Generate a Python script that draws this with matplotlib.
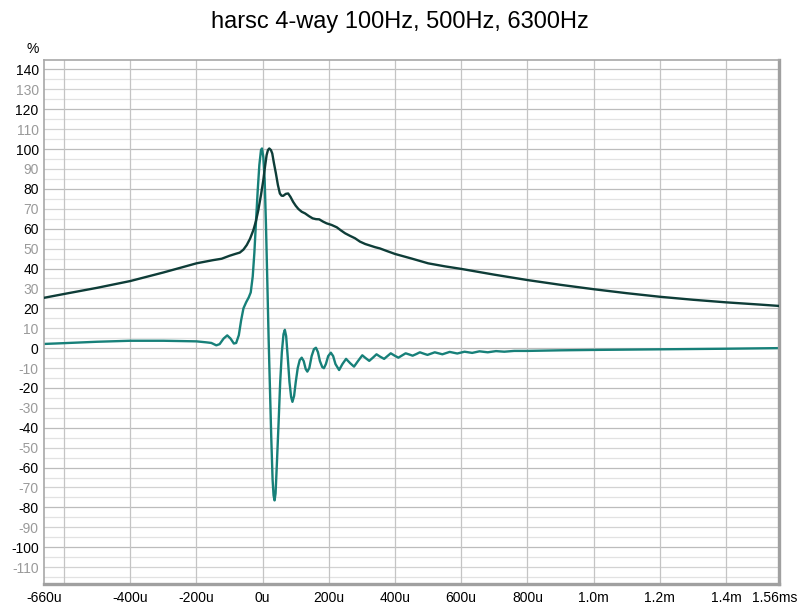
import matplotlib
matplotlib.use('Agg')
import matplotlib.pyplot as plt
import matplotlib.transforms as mtransforms

plt.rcParams['font.family'] = ['Liberation Sans', 'DejaVu Sans']

# envelope (dark curve), time in microseconds, value in %
env_t = [-660, -600, -500, -400, -300, -200, -150, -124, -100, -85, -69, -58, -48, -38,
         -28, -20, -13, -5, 2, 7, 12, 16, 20, 25, 29, 34, 40, 46, 52, 57, 62, 70, 77, 84,
         92, 100, 108, 118, 128, 140, 151, 161, 171, 182, 193, 208, 224, 236, 249, 264,
         279, 294, 310, 325, 340, 354, 375, 400, 450, 500, 550, 600, 700, 800, 900, 1000,
         1100, 1200, 1300, 1400, 1500, 1560]
env_v = [25.3, 27.2, 30.3, 33.7, 38.0, 42.6, 44.2, 44.9, 46.4, 47.2, 48.0, 49.5, 51.8, 55.0,
         59.3, 64.0, 69.4, 77.0, 84.4, 91.0, 97.0, 99.5, 100.3, 99.5, 97.8, 93.0, 87.8, 82.0,
         77.7, 76.6, 76.5, 77.5, 77.7, 76.0, 73.5, 71.5, 69.9, 68.5, 67.7, 66.3, 65.2, 64.8,
         64.7, 63.6, 62.7, 61.9, 60.7, 59.2, 57.7, 56.4, 55.2, 53.5, 52.3, 51.5, 50.7, 50.1,
         48.8, 47.3, 45.0, 42.6, 41.1, 39.8, 36.9, 34.2, 31.8, 29.6, 27.6, 25.8, 24.3, 23.0,
         21.9, 21.2]

# impulse response (teal curve)
imp_t = [-660, -600, -500, -400, -300, -200, -170, -155, -140, -130, -118, -107, -97, -87,
         -80, -72, -65, -58, -50, -42, -36, -30, -25, -20, -15, -10, -5, -2, 2, 6, 10, 14,
         18, 22, 26, 30, 33, 36, 39, 43, 48, 53, 58, 63, 67, 71, 76, 81, 86, 90, 95, 100,
         106, 112, 118, 124, 130, 135, 141, 148, 155, 161, 167, 173, 180, 185, 191, 198,
         206, 213, 220, 231, 241, 252, 264, 276, 288, 301, 311, 322, 333, 344, 355, 367,
         377, 387, 398, 410, 421, 432, 443, 453, 464, 475, 487, 498, 520, 543, 565, 588,
         610, 633, 655, 680, 705, 730, 760, 800, 900, 1000, 1200, 1400, 1560]
imp_v = [2.1, 2.5, 3.2, 3.7, 3.7, 3.4, 2.9, 2.6, 1.4, 2.0, 4.8, 6.4, 4.8, 2.3,
         2.6, 6.5, 14.0, 20.0, 23.0, 25.5, 28.0, 36.0, 48.0, 64.0, 79.0, 92.0, 99.5, 100.3,
         96.0, 85.0, 62.0, 34.0, 5.0, -20.0, -45.0, -66.0, -74.0, -76.5, -73.0, -58.0, -38.0,
         -17.0, -2.0, 7.0, 9.2, 6.0, -5.0, -17.0, -24.5, -27.0, -24.0, -17.0, -10.0, -6.0,
         -4.8, -6.5, -10.5, -11.8, -10.0, -4.0, -0.5, 0.2, -2.0, -6.5, -9.5, -10.1, -8.0,
         -4.0, -2.3, -4.0, -8.0, -11.0, -8.0, -5.4, -7.5, -9.3, -6.5, -3.6, -5.0, -6.4, -4.8,
         -3.1, -4.3, -5.4, -4.0, -2.6, -3.7, -4.8, -3.7, -2.6, -3.2, -3.8, -3.0, -2.1, -2.8,
         -3.4, -2.1, -3.1, -1.9, -2.7, -1.8, -2.4, -1.6, -2.1, -1.5, -1.8, -1.4, -1.4, -1.1,
         -0.9, -0.6, -0.3, 0.0]

x_ticks = [-660, -400, -200, 0, 200, 400, 600, 800, 1000, 1200, 1400, 1560]
x_labels = ['-660u', '-400u', '-200u', '0u', '200u', '400u', '600u', '800u',
            '1.0m', '1.2m', '1.4m', '1.56ms']
x_grid = [-600, -400, -200, 0, 200, 400, 600, 800, 1000, 1200, 1400]
y_ticks = list(range(-110, 141, 10))

fig = plt.figure(figsize=(8, 6.09), dpi=100)
ax = fig.add_axes([44.2 / 800, 25 / 609, (779 - 44.2) / 800, (584 - 59.5) / 609])

# grid: horizontal every 5, darker at multiples of 20
for v in range(-115, 145, 5):
    if v % 20 == 0:
        c = '#bcbcbc'
    elif v % 10 == 0:
        c = '#d2d2d2'
    else:
        c = '#e2e2e2'
    ax.axhline(v, color=c, linewidth=0.9, zorder=0)
for v in x_grid:
    ax.axvline(v, color='#c4c4c4', linewidth=0.9, zorder=0)

ax.plot(env_t, env_v, color='#0e3d38', linewidth=1.7, zorder=3)
ax.plot(imp_t, imp_v, color='#178079', linewidth=1.7, zorder=2)

ax.set_xlim(-660, 1560)
ax.set_ylim(-118.5, 145)

ax.set_xticks(x_ticks)
ax.set_xticklabels(x_labels)
ax.set_yticks(y_ticks)
ax.set_yticklabels([str(v) for v in y_ticks])
ax.tick_params(length=0, labelsize=10, pad=4)
ax.tick_params(axis='x', pad=5)
for lbl, v in zip(ax.get_yticklabels(), y_ticks):
    lbl.set_color('black' if v % 20 == 0 else '#9a9a9a')

# nudge the last x label so it stays inside the figure
last = ax.get_xticklabels()[-1]
last.set_transform(last.get_transform() +
                   mtransforms.ScaledTranslation(-4 / 100, 0, fig.dpi_scale_trans))

# frame with a heavier shadow on right/bottom
for side in ['top', 'left']:
    ax.spines[side].set_color('#a8a8a8')
    ax.spines[side].set_linewidth(1.2)
for side in ['right', 'bottom']:
    ax.spines[side].set_color('#a0a0a0')
    ax.spines[side].set_linewidth(2.4)

fig.text(33 / 800, 1 - 49 / 609, '%', fontsize=10, ha='center', va='center')
fig.text(0.5, 1 - 22 / 609, 'harsc 4-way 100Hz, 500Hz, 6300Hz', fontsize=17,
         ha='center', va='center')

plt.savefig('out.png', dpi=100)
plt.close()
